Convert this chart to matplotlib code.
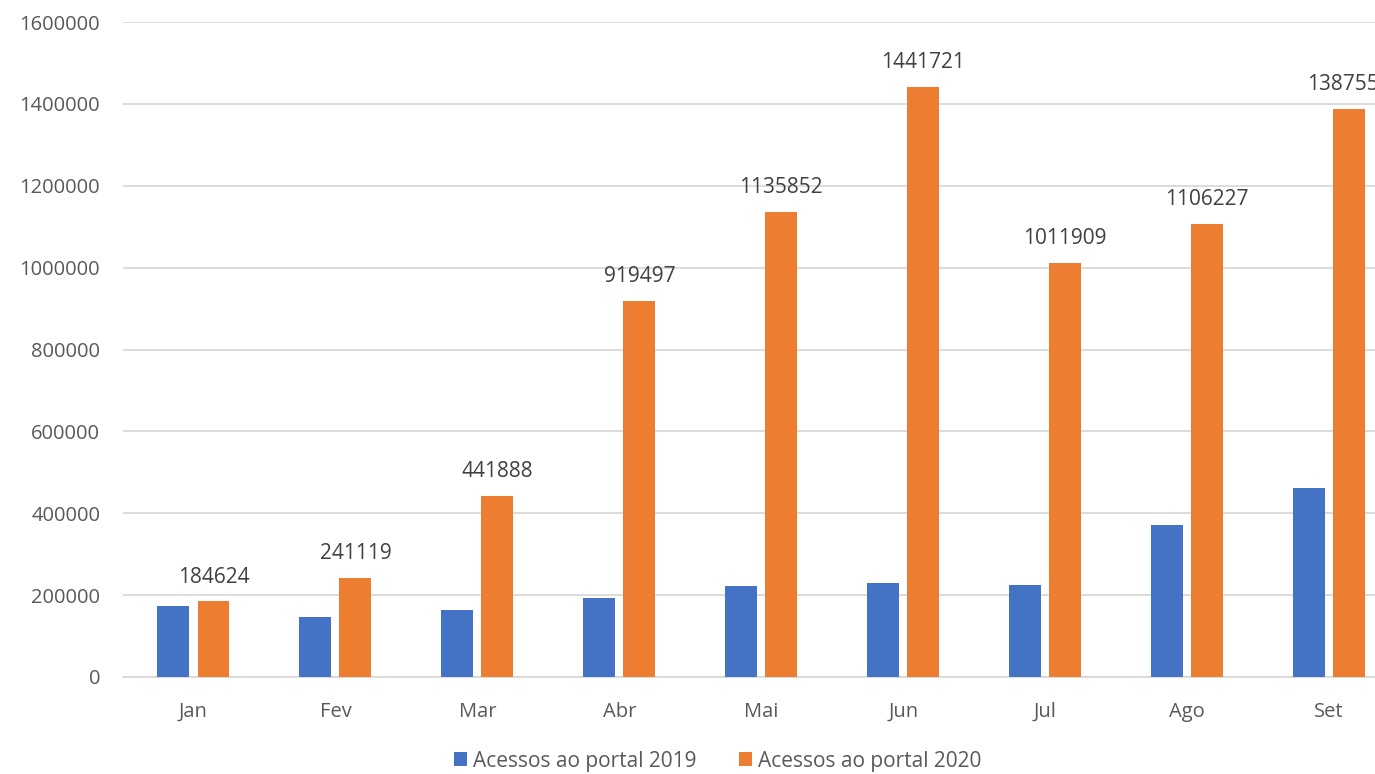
import matplotlib
matplotlib.use("Agg")
import matplotlib.pyplot as plt
import numpy as np

months = ["Jan", "Fev", "Mar", "Abr", "Mai", "Jun", "Jul", "Ago", "Set"]
acessos_2019 = [173300, 145800, 164500, 192700, 222800, 229200, 223600, 371100, 461700]
acessos_2020 = [184624, 241119, 441888, 919497, 1135852, 1441721, 1011909, 1106227, 1387553]
labels_2020 = ["184624", "241119", "441888", "919497", "1135852", "1441721", "1011909", "1106227", "1387553"]
series_names = ["Acessos ao portal 2019", "Acessos ao portal 2020"]
yticks = [0, 200000, 400000, 600000, 800000, 1000000, 1200000, 1400000, 1600000]

plt.rcParams['font.family'] = ['Open Sans', 'DejaVu Sans']
txt = '#595959'

fig = plt.figure(figsize=(13.75, 7.74), dpi=100)
ax = fig.add_axes([122.5/1375, 97/774, (1400-122.5)/1375, 655/774])

x = np.arange(len(months))
w = 0.225
off = 0.141
ax.bar(x - off, acessos_2019, w, color='#4472C4', label=series_names[0], zorder=3)
ax.bar(x + off, acessos_2020, w, color='#ED7D31', label=series_names[1], zorder=3)

for xi, v, lab in zip(x, acessos_2020, labels_2020):
    ax.annotate(lab, (xi + off, v), xytext=(0, 10), textcoords='offset points',
                ha='center', va='bottom', fontsize=15, color='#404040', annotation_clip=False)

ax.set_xlim(-0.5, len(months) - 0.5)
ax.set_ylim(0, 1600000)
ax.set_yticks(yticks)
ax.set_yticklabels([str(t) for t in yticks])
ax.set_xticks(x)
ax.set_xticklabels(months)
ax.tick_params(axis='both', length=0, labelsize=14.5, labelcolor=txt)
ax.tick_params(axis='y', pad=16)
ax.tick_params(axis='x', pad=18)
ax.grid(axis='y', color='#D9D9D9', linewidth=1.3, zorder=0)
for s in ['top', 'right', 'left']:
    ax.spines[s].set_visible(False)
ax.spines['bottom'].set_color('#D9D9D9')
ax.spines['bottom'].set_linewidth(1.3)

fig.legend(loc='center', bbox_to_anchor=(0.522, 13/774), ncol=2, frameon=False,
           fontsize=15, handlelength=0.65, handleheight=0.65, handletextpad=0.3,
           columnspacing=2.0, labelcolor=txt)

fig.savefig('out.png', dpi=100)
